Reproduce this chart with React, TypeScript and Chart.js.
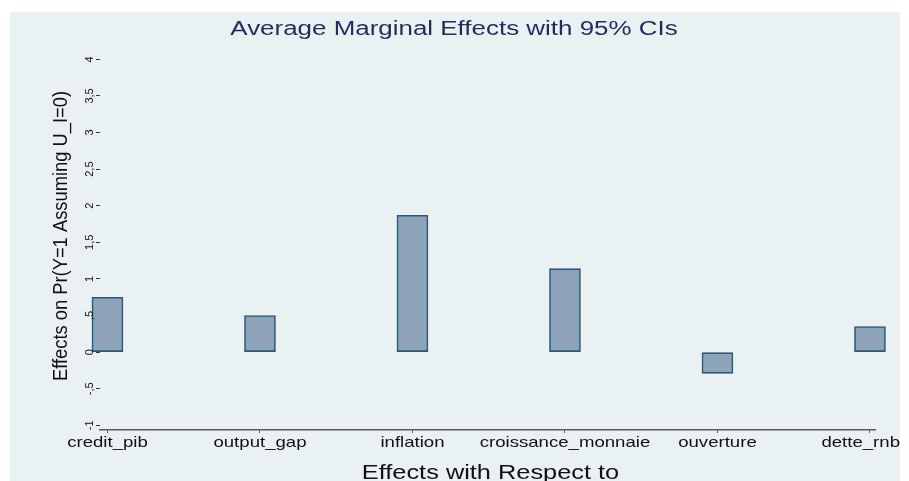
import { useEffect, useRef } from "react";
import { Chart, registerables } from "chart.js";

Chart.register(...registerables);

// Regressors and their average marginal effects
const categories = ["credit_pib", "output_gap", "inflation", "croissance_monnaie", "ouverture", "dette_rnb"];
const effects = [0.75, 0.5, 1.87, 1.14, -0.29, 0.35];

// Y axis ticks (decimal comma)
const yTickValues = [-1, -0.5, 0, 0.5, 1, 1.5, 2, 2.5, 3, 3.5, 4];
const yTickLabels = ["-1", "-,5", "0", ",5", "1", "1,5", "2", "2,5", "3", "3,5", "4"];

const chartTitle = "Average Marginal Effects with 95% CIs";
const xAxisTitle = "Effects with Respect to";
const yAxisTitle = "Effects on Pr(Y=1 Assuming U_I=0)";

const W = 909;
const H = 481;
const FONT = '"Liberation Sans", Arial, sans-serif';
const PANEL = { left: 10, top: 12, right: 900, bottom: 481 };

function drawStretched(
  ctx: CanvasRenderingContext2D,
  text: string,
  x: number,
  y: number,
  size: number,
  sx: number,
  align: "left" | "center" | "right",
  color: string,
  maxRight?: number
) {
  ctx.save();
  ctx.font = `${size}px ${FONT}`;
  ctx.fillStyle = color;
  ctx.textAlign = "left";
  ctx.textBaseline = "alphabetic";
  const w = ctx.measureText(text).width * sx;
  let left = align === "center" ? x - w / 2 : align === "right" ? x - w : x;
  if (maxRight !== undefined && left + w > maxRight) left = maxRight - w;
  ctx.translate(left, y);
  ctx.scale(sx, 1);
  ctx.fillText(text, 0, 0);
  ctx.restore();
}

const backgroundPlugin = {
  id: "panelBackground",
  beforeDraw(chart: Chart) {
    const ctx = chart.ctx;
    ctx.save();
    ctx.fillStyle = "#ffffff";
    ctx.fillRect(0, 0, W, H);
    ctx.fillStyle = "#e9f1f3";
    ctx.fillRect(PANEL.left, PANEL.top, PANEL.right - PANEL.left, PANEL.bottom - PANEL.top);
    ctx.restore();
  },
};

const textPlugin = {
  id: "stataText",
  afterDraw(chart: Chart) {
    const ctx = chart.ctx;
    const xs = chart.scales.x;
    const ys = chart.scales.y;
    const area = chart.chartArea;

    // Title
    drawStretched(ctx, chartTitle, 454, 35, 19.5, 1.33, "center", "#1e2d5c");

    // X tick labels
    categories.forEach((name, i) => {
      const px = xs.getPixelForValue(i + 1);
      drawStretched(ctx, name, px, 447, 15, 1.24, "center", "#111111", PANEL.right);
    });

    // X axis title
    drawStretched(ctx, xAxisTitle, (area.left + area.right) / 2 + 3, 479, 19.5, 1.3, "center", "#111111");

    // Y tick labels, rotated
    ctx.save();
    ctx.font = `11px ${FONT}`;
    ctx.fillStyle = "#111111";
    ctx.textAlign = "center";
    ctx.textBaseline = "middle";
    yTickValues.forEach((v, i) => {
      const py = ys.getPixelForValue(v);
      ctx.save();
      ctx.translate(90, py);
      ctx.rotate(-Math.PI / 2);
      ctx.fillText(yTickLabels[i], 0, 0);
      ctx.restore();
    });
    ctx.restore();

    // Y axis title, rotated and slightly condensed
    ctx.save();
    ctx.translate(67, 236);
    ctx.rotate(-Math.PI / 2);
    drawStretched(ctx, yAxisTitle, 0, 0, 19.5, 0.94, "center", "#111111");
    ctx.restore();
  },
};

export default function App() {
  const canvasRef = useRef<HTMLCanvasElement | null>(null);

  useEffect(() => {
    const canvas = canvasRef.current;
    if (!canvas) return;
    const chart = new Chart(canvas, {
      type: "bar",
      data: {
        datasets: [
          {
            data: categories.map((_, i) => ({ x: i + 1, y: effects[i] })),
            backgroundColor: "#8da3b8",
            borderColor: "#2b5679",
            borderWidth: 1.6,
            borderSkipped: false,
            barThickness: 31,
            clip: false as any,
          },
        ],
      },
      options: {
        responsive: false,
        animation: false,
        devicePixelRatio: 1,
        layout: { padding: { left: 0, right: 34, top: 52, bottom: 0 } },
        plugins: {
          legend: { display: false },
          tooltip: { enabled: false },
          title: { display: false },
        },
        scales: {
          x: {
            type: "linear",
            offset: false,
            min: 0.951,
            max: 6.033,
            afterBuildTicks: (s: any) => {
              s.ticks = categories.map((_, i) => ({ value: i + 1 }));
            },
            afterFit: (s: any) => {
              s.height = 51;
            },
            ticks: { display: false },
            grid: {
              display: true,
              offset: false,
              drawOnChartArea: false,
              drawTicks: true,
              tickLength: 3,
              color: "#5a5a5a",
            },
            border: { display: true, color: "#5a5a5a", width: 1.5 },
          },
          y: {
            type: "linear",
            min: -1.064,
            max: 4.1,
            afterBuildTicks: (s: any) => {
              s.ticks = yTickValues.map((v) => ({ value: v }));
            },
            afterFit: (s: any) => {
              s.width = 100;
            },
            ticks: { display: false },
            grid: {
              display: true,
              drawOnChartArea: false,
              drawTicks: true,
              tickLength: 4,
              color: "#333333",
            },
            border: { display: false },
          },
        },
      },
      plugins: [backgroundPlugin, textPlugin],
    });
    return () => chart.destroy();
  }, []);

  return (
    <div style={{ position: "absolute", left: 0, top: 0, width: W, height: H, background: "#ffffff" }}>
      <canvas ref={canvasRef} width={W} height={H} style={{ display: "block", width: W, height: H }} />
    </div>
  );
}
